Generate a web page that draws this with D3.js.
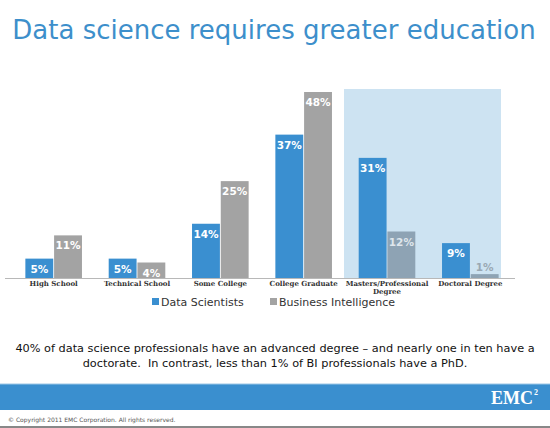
<!DOCTYPE html>
<html>
<head>
<meta charset="utf-8">
<script src="https://cdn.jsdelivr.net/npm/d3@7"></script>
<style>
body { margin: 0; background: #fff; }
</style>
</head>
<body>
<svg width="550" height="428"></svg>
<script>
var categories = ["High School", "Technical School", "Some College", "College Graduate", "Masters/Professional Degree", "Doctoral Degree"];
var dataScientists = [5, 5, 14, 37, 31, 9];
var businessIntel = [11, 4, 25, 48, 12, 1];
var seriesNames = ["Data Scientists", "Business Intelligence"];

var svg = d3.select("svg");
var blue = "#3a8fd0", grey = "#a3a3a3";

// title
svg.append("text").attr("x", 274).attr("y", 39).attr("text-anchor", "middle")
	.attr("font-family", "Verdana, DejaVu Sans").attr("font-size", 26).attr("fill", "#3d8fcb")
	.text("Data science requires greater education");

var x0 = d3.scaleBand().domain(categories).range([12, 512]).paddingInner(0.3).paddingOuter(0.15);
var x1 = d3.scaleBand().domain([0, 1]).range([0, x0.bandwidth()]).padding(0.03);
var y = d3.scaleLinear().domain([0, 48]).range([278, 92]);

// highlight panel
svg.append("rect").attr("x", 344).attr("y", 89).attr("width", 157).attr("height", 278 - 89)
	.attr("fill", "#cde3f2");

var g = svg.selectAll("g.cat").data(categories).enter().append("g")
	.attr("transform", function(d) { return "translate(" + x0(d) + ",0)"; });

g.each(function(d, i) {
	var vals = [dataScientists[i], businessIntel[i]];
	var hl = i >= 4;
	var sel = d3.select(this);
	vals.forEach(function(v, j) {
		var c = j == 0 ? blue : (hl ? "#8ea3b4" : grey);
		sel.append("rect").attr("x", x1(j)).attr("y", y(v)).attr("width", x1.bandwidth())
			.attr("height", y(0) - y(v)).attr("fill", c);
		sel.append("text").attr("x", x1(j) + x1.bandwidth() / 2).attr("y", (v < 3 ? y(v) - 3 : y(v) + 14))
			.attr("text-anchor", "middle").attr("font-family", "Verdana, DejaVu Sans")
			.attr("font-size", 10.5).attr("font-weight", "bold")
			.attr("fill", v < 3 ? "#9aa8b3" : (hl && j == 1 ? "#dfe6ec" : "#fff"))
			.text(v + "%");
	});
});

// baseline
svg.append("line").attr("x1", 5).attr("x2", 515).attr("y1", 278.5).attr("y2", 278.5)
	.attr("stroke", "#b8b8b8").attr("stroke-width", 1);

// category labels
var xAxis = d3.axisBottom(x0).tickSize(0).tickPadding(2);
var ax = svg.append("g").attr("transform", "translate(0,279)").call(xAxis);
ax.select(".domain").remove();
ax.selectAll("text").attr("font-family", "Georgia, DejaVu Serif").attr("font-size", 7)
	.attr("font-weight", "bold").attr("fill", "#333")
	.each(function(d) {
		if (d == "Masters/Professional Degree") {
			var t = d3.select(this).text(null);
			t.append("tspan").attr("x", 0).text("Masters/Professional");
			t.append("tspan").attr("x", 0).attr("dy", 8).text("Degree");
		}
	});

// legend
var legX = [152, 270];
seriesNames.forEach(function(n, i) {
	svg.append("rect").attr("x", legX[i]).attr("y", 298).attr("width", 7).attr("height", 7)
		.attr("fill", i == 0 ? blue : grey);
	svg.append("text").attr("x", legX[i] + 9).attr("y", 306)
		.attr("font-family", "Verdana, DejaVu Sans").attr("font-size", 11).attr("fill", "#333")
		.text(n);
});

// note
var note = svg.append("text").attr("text-anchor", "middle").attr("font-family", "Verdana, DejaVu Sans")
	.attr("font-size", 11.3).attr("fill", "#111").attr("xml:space", "preserve").style("white-space", "pre");
note.append("tspan").attr("x", 275).attr("y", 352)
	.text("40% of data science professionals have an advanced degree \u2013 and nearly one in ten have a");
note.append("tspan").attr("x", 275).attr("y", 367)
	.text("doctorate.  In contrast, less than 1% of BI professionals have a PhD.");

// footer
svg.append("rect").attr("x", 0).attr("y", 384).attr("width", 550).attr("height", 26).attr("fill", "#3a8fcf");
svg.append("line").attr("x1", 0).attr("x2", 550).attr("y1", 384).attr("y2", 384).attr("stroke", "#9cc7e6");
svg.append("text").attr("x", 533).attr("y", 404).attr("text-anchor", "end")
	.attr("font-family", "Times New Roman, Liberation Serif").attr("font-weight", "bold")
	.attr("font-size", 18).attr("fill", "#fff").text("EMC");
svg.append("text").attr("x", 534).attr("y", 395)
	.attr("font-family", "Liberation Serif").attr("font-weight", "bold")
	.attr("font-size", 8).attr("fill", "#fff").text("2");
svg.append("text").attr("x", 8).attr("y", 422)
	.attr("font-family", "Verdana, DejaVu Sans").attr("font-size", 6).attr("fill", "#555")
	.text("\u00a9 Copyright 2011 EMC Corporation. All rights reserved.");
svg.append("line").attr("x1", 0).attr("x2", 550).attr("y1", 427).attr("y2", 427).attr("stroke", "#888").attr("stroke-width", 2);
</script>
</body>
</html>
